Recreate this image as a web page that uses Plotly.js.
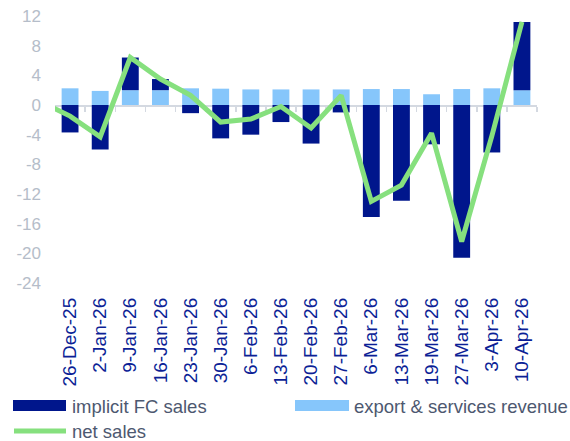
<!DOCTYPE html>
<html>
<head>
<meta charset="utf-8">
<script src="https://cdn.plot.ly/plotly-3.0.1.min.js"></script>
<style>
  html, body { margin: 0; padding: 0; background: #ffffff; }
  #chart { width: 570px; height: 441px; }
</style>
</head>
<body>
<div id="chart"></div>
<script>
// ---- data ----
const dates = ["26-Dec-25","2-Jan-26","9-Jan-26","16-Jan-26","23-Jan-26","30-Jan-26","6-Feb-26","13-Feb-26","20-Feb-26","27-Feb-26","6-Mar-26","13-Mar-26","19-Mar-26","27-Mar-26","3-Apr-26","10-Apr-26"];
const fcSales   = [-3.7, -6.0, 4.4, 1.5, -1.1, -4.5, -4.0, -2.3, -5.2, -1.0, -15.1, -12.9, -5.3, -20.6, -6.4, 9.2];
const exportRev = [2.25, 1.9, 2.0, 2.0, 2.25, 2.2, 2.1, 2.1, 2.1, 2.1, 2.15, 2.15, 1.45, 2.15, 2.25, 2.0];
const netSales  = [-1.5, -4.3, 6.4, 3.5, 1.3, -2.3, -1.9, -0.2, -3.1, 1.3, -13.0, -10.8, -3.8, -18.4, -4.2, 11.2];
// previous week (19-Dec-25), outside the shown range; only its segment enters the plot
const netPrev = 0.5;
const yTicks = [12, 8, 4, 0, -4, -8, -12, -16, -20, -24];
const yTickLabels = ["12", "8", "4", "0", "-4", "-8", "-12", "-16", "-20", "-24"];
const legendNames = ["implicit FC sales", "export & services revenue", "net sales"];

// ---- styles ----
const DARK = "#00168c", LIGHT = "#86c6fb", GREEN = "#86e07e";
const FONT = "Liberation Sans, Arial, sans-serif";
const W = 570, H = 441, ML = 55, MR = 33, MT = 16, MB = 158;
const PW = W - ML - MR, PH = H - MT - MB;
const px = x => (x - ML) / PW;
const py = y => (H - MB - y) / PH;
const yMin = yTicks[yTicks.length - 1], yMax = yTicks[0];

const idx = dates.map((d, i) => i);

const traces = [
  { type: "bar", x: idx, y: exportRev, name: legendNames[1], marker: { color: LIGHT }, xaxis: "x", yaxis: "y", hoverinfo: "skip" },
  { type: "bar", x: idx, y: fcSales, name: legendNames[0], marker: { color: DARK }, xaxis: "x", yaxis: "y", hoverinfo: "skip" },
  { type: "scatter", mode: "lines", x: [-1].concat(idx), y: [netPrev].concat(netSales), name: legendNames[2],
    line: { color: GREEN, width: 5 }, xaxis: "x2", yaxis: "y", hoverinfo: "skip" }
];

const boundaries = idx.map(i => i + 0.5);

const layout = {
  width: W, height: H,
  margin: { l: ML, r: MR, t: MT, b: MB, pad: 0 },
  paper_bgcolor: "#ffffff", plot_bgcolor: "#ffffff",
  showlegend: false,
  barmode: "relative",
  bargap: 0.44,
  font: { family: FONT },
  xaxis: {
    type: "linear", range: [-0.5, 15.5], tickvals: idx, ticktext: dates,
    tickangle: -90, showgrid: false, zeroline: false, showline: false, ticks: "",
    ticklabelstandoff: 10,
    tickfont: { family: FONT, size: 19, color: "#0c1f96" }
  },
  xaxis2: {
    type: "linear", range: [-0.5, 15.5], overlaying: "x", anchor: "free",
    position: (0 - yMin) / (yMax - yMin),
    showgrid: false, zeroline: false, showline: true, linecolor: "#d4d9e1", linewidth: 1.5,
    ticks: "outside", tickvals: boundaries, ticklen: 5, tickcolor: "#d4d9e1", tickwidth: 1.5,
    showticklabels: false, layer: "below traces"
  },
  yaxis: {
    range: [yMin, yMax], tickvals: yTicks, ticktext: yTickLabels, showgrid: false, zeroline: false, showline: false,
    ticks: "", ticklabelstandoff: 13,
    tickfont: { family: FONT, size: 17, color: "#b5bdc9" }
  },
  shapes: [
    { type: "rect", xref: "paper", yref: "paper", x0: px(13), x1: px(66), y0: py(400), y1: py(411), fillcolor: DARK, line: { width: 0 } },
    { type: "rect", xref: "paper", yref: "paper", x0: px(295), x1: px(349), y0: py(400), y1: py(411), fillcolor: LIGHT, line: { width: 0 } },
    { type: "line", xref: "paper", yref: "paper", x0: px(14), x1: px(66), y0: py(431), y1: py(431), line: { color: GREEN, width: 5 } }
  ],
  annotations: [
    { xref: "paper", yref: "paper", x: px(70), y: py(406), xanchor: "left", yanchor: "middle", showarrow: false,
      text: legendNames[0], font: { family: FONT, size: 18.5, color: "#4d5870" } },
    { xref: "paper", yref: "paper", x: px(352), y: py(406), xanchor: "left", yanchor: "middle", showarrow: false,
      text: legendNames[1], font: { family: FONT, size: 18.5, color: "#4d5870" } },
    { xref: "paper", yref: "paper", x: px(70), y: py(431), xanchor: "left", yanchor: "middle", showarrow: false,
      text: legendNames[2], font: { family: FONT, size: 18.5, color: "#4d5870" } }
  ]
};

Plotly.newPlot("chart", traces, layout, { staticPlot: true, displayModeBar: false });
</script>
</body>
</html>
